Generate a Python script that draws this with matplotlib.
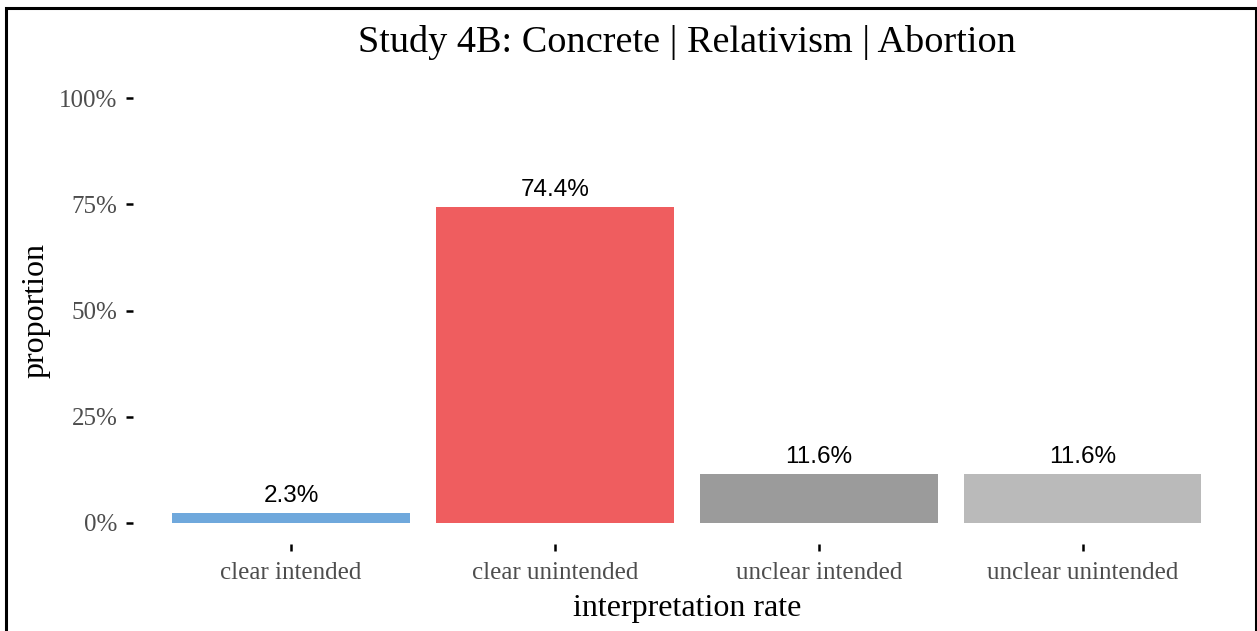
import numpy as np
import matplotlib
matplotlib.use("Agg")
import matplotlib.pyplot as plt
from matplotlib.patches import Rectangle

categories = ["clear intended", "clear unintended", "unclear intended", "unclear unintended"]
proportions = [0.023, 0.744, 0.116, 0.116]
bar_labels = ["2.3%", "74.4%", "11.6%", "11.6%"]
bar_colors = ["#6FA8DC", "#EF5D5F", "#9B9B9B", "#BABABA"]
y_ticks = [0, 0.25, 0.5, 0.75, 1.0]
y_ticklabels = ["0%", "25%", "50%", "75%", "100%"]

serif = "Liberation Serif"
sans = "Liberation Sans"

fig = plt.figure(figsize=(12.57, 6.31), dpi=100)
fig.patch.set_facecolor("white")

# outer frame around the whole picture (bottom edge is cut off in the reference)
fig.patches.append(Rectangle((6 / 1257, -0.05), 1250 / 1257, 1.05 - 8 / 631,
                             transform=fig.transFigure, fill=False,
                             edgecolor="black", linewidth=2.2))

ax = fig.add_axes([0.1055, 0.1379, 0.8818, 0.7400])
x = np.arange(1, len(categories) + 1)
ax.bar(x, proportions, width=0.9, color=bar_colors)

for xi, p, lab in zip(x, proportions, bar_labels):
    ax.annotate(lab, (xi, p), xytext=(0, 4), textcoords="offset points",
                ha="center", va="bottom", fontsize=17.5, family=sans, color="black")

ax.set_xlim(0.4, 4.6)
ax.set_ylim(-0.05, 1.05)
ax.set_xticks(x)
ax.set_xticklabels(categories, family=serif, fontsize=18, color="#4D4D4D")
ax.set_yticks(y_ticks)
ax.set_yticklabels(y_ticklabels, family=serif, fontsize=18, color="#4D4D4D")
ax.tick_params(axis="x", length=5, width=1.8, color="black", pad=8)
ax.tick_params(axis="y", length=5, width=1.8, color="black", pad=6)

for s in ax.spines.values():
    s.set_visible(False)

ax.set_title("Study 4B: Concrete | Relativism | Abortion", family=serif,
             fontsize=27.5, color="black", pad=18)
ax.set_xlabel("interpretation rate", family=serif, fontsize=23, labelpad=7)
ax.set_ylabel("proportion", family=serif, fontsize=23, labelpad=6)

fig.savefig("out.png", dpi=100, facecolor="white")
